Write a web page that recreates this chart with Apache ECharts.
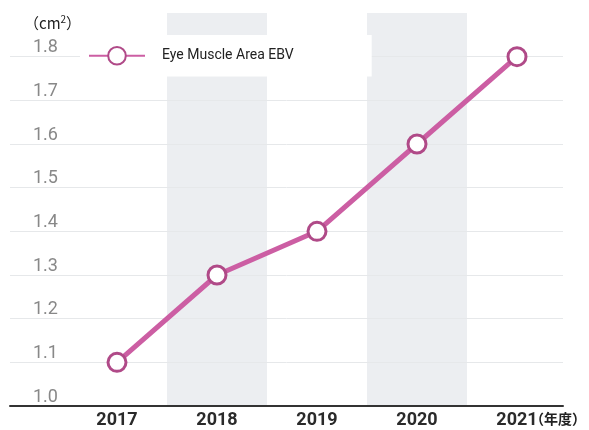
<!DOCTYPE html>
<html><head><meta charset="utf-8">
<script src="https://cdn.jsdelivr.net/npm/echarts@6/dist/echarts.min.js"></script>
<style>html,body{margin:0;padding:0;background:#fff;}#c{width:589px;height:430px;}</style>
</head><body><div id="c"></div>
<script>
const categories = ['2017', '2018', '2019', '2020', '2021'];
const eyeMuscleArea = [1.1, 1.3, 1.4, 1.6, 1.8];
const seriesName = 'Eye Muscle Area EBV';
const yMin = 1.0, yMax = 1.9, yStep = 0.1;
const unitY = '（cm{s|2}）';
const unitX = '（年度）';

const chart = echarts.init(document.getElementById('c'));
const gridTop = 13, gridBottom = 24;
const lineColors = [];
for (let i = 0; i < 10; i++) lineColors.push(i === 9 ? 'rgba(0,0,0,0)' : '#e6e8ea');
chart.setOption({
  animation: false,
  backgroundColor: '#fff',
  grid: [
    {left: 10, right: 26, top: gridTop, bottom: gridBottom},
    {left: 67, right: 22, top: gridTop, bottom: gridBottom}
  ],
  xAxis: [
    {gridIndex: 0, type: 'value', min: 0, max: 1, show: true,
     axisLine: {show: true, onZero: false, lineStyle: {color: '#333', width: 2}},
     axisTick: {show: false}, axisLabel: {show: false}, splitLine: {show: false}, z: 5},
    {gridIndex: 1, type: 'category', data: categories, boundaryGap: true,
     axisLine: {show: false}, axisTick: {show: false},
     axisLabel: {color: '#2a2a2a', fontSize: 18, fontWeight: 'bold', fontFamily: 'Roboto', margin: 5},
     splitArea: {show: true, areaStyle: {color: ['rgba(0,0,0,0)', '#eceef1']}},
     splitLine: {show: false}}
  ],
  yAxis: [
    {gridIndex: 0, type: 'value', min: yMin, max: yMax, interval: yStep,
     axisLine: {show: false}, axisTick: {show: false},
     axisLabel: {inside: true, margin: 23, color: '#888', fontSize: 18, fontFamily: 'Roboto',
       verticalAlign: 'bottom', padding: [0, 0, 0, 0],
       formatter: v => (Math.abs(v - yMax) < 1e-6 ? '' : v.toFixed(1))},
     splitLine: {show: true, lineStyle: {color: lineColors, width: 1}}, z: 1},
    {gridIndex: 1, type: 'value', min: yMin, max: yMax, interval: yStep, show: false,
     splitLine: {show: false}}
  ],
  legend: {
    data: [seriesName], left: 80, top: 35,
    backgroundColor: '#fff', padding: [11, 78, 11, 8],
    itemWidth: 56, itemHeight: 22, itemGap: 10,
    textStyle: {color: '#222', fontSize: 14, fontFamily: 'Roboto', padding: [0, 0, 0, 12]}
  },
  series: [{
    name: seriesName, type: 'line', xAxisIndex: 1, yAxisIndex: 1,
    data: eyeMuscleArea, symbol: 'circle', symbolSize: 18,
    lineStyle: {color: '#cc5ea3', width: 5},
    itemStyle: {color: '#fff', borderColor: '#b04a88', borderWidth: 3},
    z: 10
  }],
  graphic: [
    {type: 'text', left: 24, top: 14, style: {text: unitY, fontSize: 15, fill: '#222', fontFamily: 'Noto Sans CJK JP',
      rich: {s: {fontSize: 10, fill: '#222', padding: [0, 0, 9, 0], fontFamily: 'Noto Sans CJK JP'}}}},
    {type: 'text', left: 530, top: 412, style: {text: unitX, fontSize: 14, fill: '#222', fontWeight: 'bold', fontFamily: 'Noto Sans CJK JP'}}
  ]
});
</script></body></html>
